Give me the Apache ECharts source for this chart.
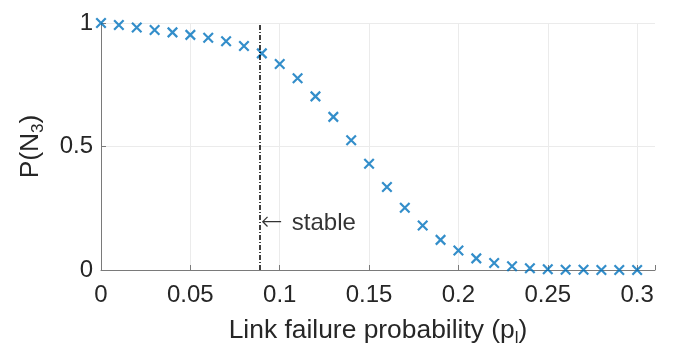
<!DOCTYPE html>
<html><head><meta charset="utf-8">
<script src="https://cdn.jsdelivr.net/npm/echarts@6/dist/echarts.min.js"></script>
<style>html,body{margin:0;padding:0;background:#fff}#c{width:676px;height:361px}</style>
</head><body><div id="c"></div>
<script>
const pValues = [0,0.01,0.02,0.03,0.04,0.05,0.06,0.07,0.08,0.09,0.10,0.11,0.12,0.13,0.14,0.15,0.16,0.17,0.18,0.19,0.20,0.21,0.22,0.23,0.24,0.25,0.26,0.27,0.28,0.29,0.30];
const probValues = [1.0,0.992,0.982,0.972,0.962,0.952,0.940,0.926,0.907,0.877,0.834,0.776,0.703,0.620,0.525,0.430,0.336,0.252,0.180,0.122,0.079,0.047,0.028,0.015,0.007,0.003,0.001,0.001,0,0,0];
const stableX = 0.089;
const stableLabelY = 0.19;
const xTicks = [0,0.05,0.1,0.15,0.2,0.25,0.3];
const yTicks = [0,0.5,1];

const font = 'Liberation Sans, Arial, Helvetica, sans-serif';
const txt = '#262626';
const chart = echarts.init(document.getElementById('c'), null, {renderer:'canvas'});
chart.setOption({
  animation:false,
  grid:{left:101,right:21,top:23,bottom:91},
  xAxis:{type:'value',min:0,max:0.31,interval:0.05,
    axisLine:{lineStyle:{color:'#7a7a7a',width:1}},
    axisTick:{inside:true,length:5,lineStyle:{color:'#7a7a7a'}},
    splitLine:{show:true,showMaxLine:false,lineStyle:{color:'#ebebeb',width:1}},
    axisLabel:{color:txt,fontSize:24,fontFamily:font,margin:13,
      formatter:v=>xTicks.some(t=>Math.abs(t-v)<1e-9)?String(+v.toFixed(2)):''},
    name:'{a|Link failure probability (p}{s|l}{a|)}',nameLocation:'middle',nameGap:44,
    nameTextStyle:{rich:{a:{fontSize:26.4,fontFamily:font,color:txt},s:{fontSize:17,fontFamily:font,color:txt,padding:[16,0,0,0]}}}
  },
  yAxis:{type:'value',min:0,max:1,interval:0.5,
    axisLine:{show:true,lineStyle:{color:'#7a7a7a',width:1}},
    axisTick:{show:true,inside:true,length:5,lineStyle:{color:'#7a7a7a'}},
    splitLine:{show:true,lineStyle:{color:'#ebebeb',width:1}},
    axisLabel:{color:txt,fontSize:24,fontFamily:font,margin:8,
      formatter:v=>yTicks.some(t=>Math.abs(t-v)<1e-9)?String(v):''},
    name:'{a|P(N}{s|3}{a|)}',nameLocation:'middle',nameGap:54,
    nameTextStyle:{rich:{a:{fontSize:26.4,fontFamily:font,color:txt},s:{fontSize:17,fontFamily:font,color:txt,padding:[16,0,0,0]}}}
  },
  series:[
    {type:'scatter',data:pValues.map((p,i)=>[p,probValues[i]]),
     symbol:'path://M0,0L10,10M10,0L0,10',symbolSize:9.5,
     itemStyle:{color:'rgba(0,0,0,0)',borderColor:'#0072BD',borderWidth:2.2},
     markLine:{silent:true,symbol:['none','none'],label:{show:false},
       lineStyle:{color:'#000',width:1.5,type:[5,2,1,2]},
       data:[[{coord:[stableX,0]},{coord:[stableX,1]}]]},
     z:3},
    {type:'scatter',data:[[stableX,stableLabelY]],symbolSize:0,
     label:{show:true,position:'right',distance:1,formatter:'{ar|\u2190}stable',fontSize:24,fontFamily:font,color:'#000',
       rich:{ar:{fontSize:26,fontFamily:'DejaVu Sans',fontWeight:'lighter',color:'#000',padding:[0,9,0,0]}}}}
  ]
});
</script></body></html>
